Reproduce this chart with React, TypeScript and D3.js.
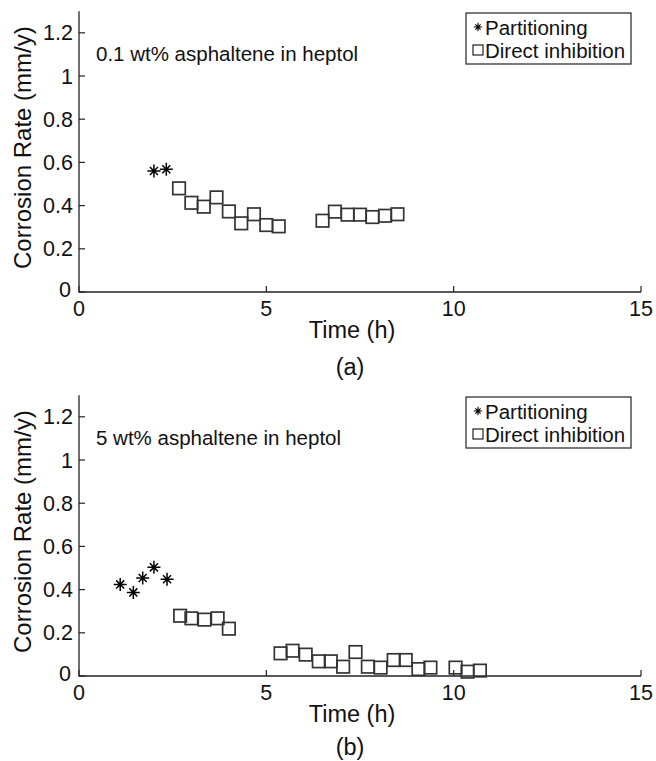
import React from "react";
import * as d3 from "d3";

const xTicks = [0, 5, 10, 15];
const yTicks = [0, 0.2, 0.4, 0.6, 0.8, 1, 1.2];

const aPartTime = [2.0, 2.33];
const aPartRate = [0.56, 0.568];
const aDirTime = [2.67, 3.0, 3.33, 3.67, 4.0, 4.33, 4.67, 5.0, 5.33, 6.5, 6.83, 7.17, 7.5, 7.83, 8.17, 8.5];
const aDirRate = [0.48, 0.413, 0.395, 0.438, 0.373, 0.318, 0.36, 0.31, 0.304, 0.33, 0.372, 0.358, 0.358, 0.347, 0.353, 0.36];

const bPartTime = [1.1, 1.45, 1.7, 2.0, 2.35];
const bPartRate = [0.424, 0.387, 0.454, 0.503, 0.448];
const bDirTime = [2.7, 3.0, 3.35, 3.7, 4.0, 5.38, 5.7, 6.05, 6.4, 6.72, 7.05, 7.38, 7.71, 8.05, 8.4, 8.72, 9.06, 9.38, 10.05, 10.37, 10.7];
const bDirRate = [0.279, 0.267, 0.261, 0.267, 0.219, 0.105, 0.117, 0.099, 0.068, 0.068, 0.043, 0.111, 0.043, 0.039, 0.074, 0.074, 0.032, 0.039, 0.039, 0.02, 0.025];

const panels = [
  { label: "(a)", note: "0.1 wt% asphaltene in heptol", pt: aPartTime, pr: aPartRate, dt: aDirTime, dr: aDirRate, top: 0, lblDy: 83 },
  { label: "(b)", note: "5 wt% asphaltene in heptol", pt: bPartTime, pr: bPartRate, dt: bDirTime, dr: bDirRate, top: 384, lblDy: 79 },
];

const FONT = "'Liberation Sans', Arial, Helvetica, sans-serif";
const AX = "#222";
const TXT = "#111";

function Star({ x, y, r, w = 1.5 }: { x: number; y: number; r: number; w?: number }) {
  const d = r * 0.62;
  return (
    <path
      d={`M${x - r},${y}H${x + r}M${x},${y - r}V${y + r}M${x - d},${y - d}L${x + d},${y + d}M${x - d},${y + d}L${x + d},${y - d}`}
      stroke="#000"
      strokeWidth={w}
      fill="none"
    />
  );
}

function Panel({ p }: { p: (typeof panels)[number] }) {
  const x = d3.scaleLinear().domain([0, 15]).range([79, 641]);
  const y = d3.scaleLinear().domain([0, 1.3]).range([292 + p.top, 11.2 + p.top]);
  const y0 = y(0);
  const sq = 12.5;
  return (
    <g>
      <path d={`M${x(0)},${y(1.3)}V${y0}H${x(15)}`} stroke={AX} strokeWidth={1.3} fill="none" />
      {xTicks.map((t) => (
        <g key={"x" + t}>
          <line x1={x(t)} x2={x(t)} y1={y0} y2={y0 - 6} stroke={AX} strokeWidth={1.2} />
          <text x={x(t)} y={y0 + 24} textAnchor="middle" fontSize={21.5} fontFamily={FONT} fill={TXT}>
            {t}
          </text>
        </g>
      ))}
      {yTicks.map((t) => (
        <g key={"y" + t}>
          <line x1={x(0)} x2={x(0) + 6} y1={y(t)} y2={y(t)} stroke={AX} strokeWidth={1.2} />
          <text
            x={t === 0 ? x(0) - 8 : x(0) - 6}
            y={t === 0 ? y(t) + 5 : y(t) + 7.5}
            textAnchor="end"
            fontSize={21.5}
            fontFamily={FONT}
            fill={TXT}
          >
            {t}
          </text>
        </g>
      ))}
      <text
        transform={`translate(31,${(y(0) + y(1.3)) / 2 - 4}) rotate(-90)`}
        textAnchor="middle"
        fontSize={24}
        fontFamily={FONT}
        fill={TXT}
      >
        Corrosion Rate (mm/y)
      </text>
      <text x={352} y={y0 + 46} textAnchor="middle" fontSize={23.5} fontFamily={FONT} fill={TXT}>
        Time (h)
      </text>
      <text x={350} y={y0 + p.lblDy} textAnchor="middle" fontSize={23.5} fontFamily={FONT} fill={TXT}>
        {p.label}
      </text>
      <text x={96} y={y(1.1) + 7} fontSize={20.5} fontFamily={FONT} fill={TXT}>
        {p.note}
      </text>
      {p.dt.map((t, i) => (
        <rect
          key={"d" + i}
          x={x(t) - sq / 2}
          y={y(p.dr[i]) - sq / 2}
          width={sq}
          height={sq}
          fill="none"
          stroke="#333"
          strokeWidth={1.7}
        />
      ))}
      {p.pt.map((t, i) => (
        <Star key={"p" + i} x={x(t)} y={y(p.pr[i])} r={6.5} />
      ))}
      <rect x={466} y={p.top + 13} width={165} height={51} fill="#fff" stroke={AX} strokeWidth={1.2} />
      <Star x={478} y={p.top + 27} r={4.2} w={1.1} />
      <text x={485} y={p.top + 34.5} fontSize={20.5} fontFamily={FONT} fill={TXT}>
        Partitioning
      </text>
      <rect x={473} y={p.top + 45} width={10} height={10} fill="none" stroke="#222" strokeWidth={1.2} />
      <text x={485} y={p.top + 57.5} fontSize={20.5} fontFamily={FONT} fill={TXT}>
        Direct inhibition
      </text>
    </g>
  );
}

export default function App() {
  return (
    <svg width={656} height={761} style={{ position: "absolute", left: 0, top: 0, background: "#fff" }}>
      <rect width={656} height={761} fill="#fff" />
      {panels.map((p) => (
        <Panel key={p.label} p={p} />
      ))}
    </svg>
  );
}
